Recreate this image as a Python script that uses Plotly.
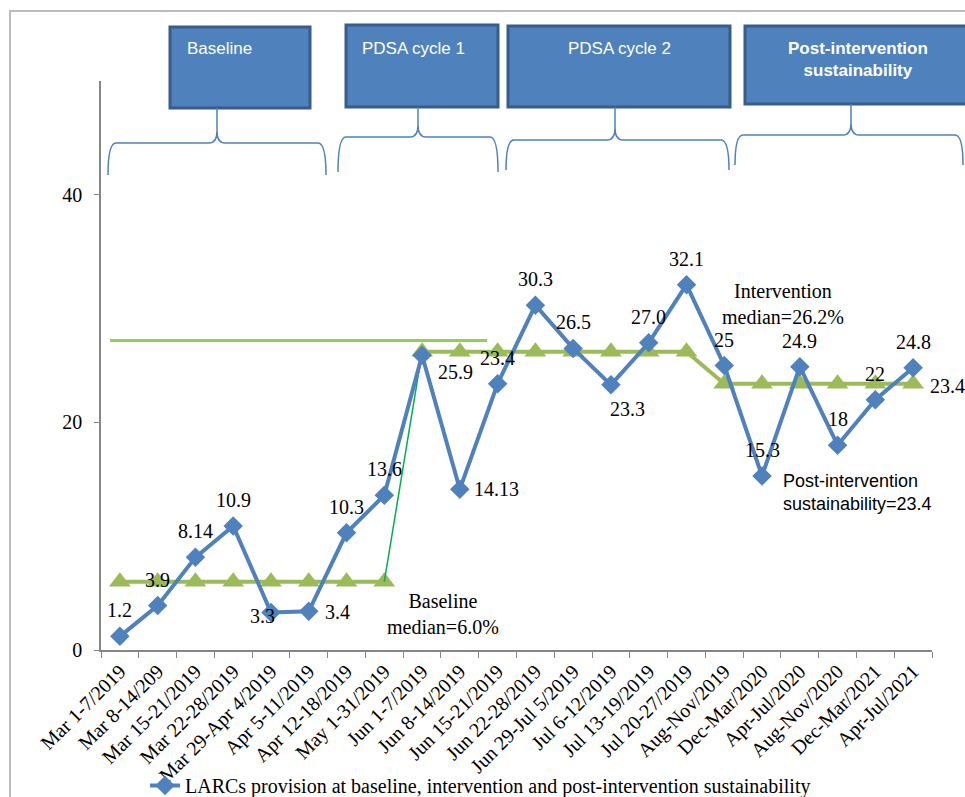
import plotly.graph_objects as go

categories = ["Mar 1-7/2019", "Mar 8-14/209", "Mar 15-21/2019", "Mar 22-28/2019",
              "Mar 29-Apr 4/2019", "Apr 5-11/2019", "Apr 12-18/2019", "May 1-31/2019",
              "Jun 1-7/2019", "Jun 8-14/2019", "Jun 15-21/2019", "Jun 22-28/2019",
              "Jun 29-Jul 5/2019", "Jul 6-12/2019", "Jul 13-19/2019", "Jul 20-27/2019",
              "Aug-Nov/2019", "Dec-Mar/2020", "Apr-Jul/2020", "Aug-Nov/2020",
              "Dec-Mar/2021", "Apr-Jul/2021"]
larc_values = [1.2, 3.9, 8.14, 10.9, 3.3, 3.4, 10.3, 13.6, 25.9, 14.13, 23.4, 30.3,
               26.5, 23.3, 27.0, 32.1, 25, 15.3, 24.9, 18, 22, 24.8]
larc_labels = ["1.2", "3.9", "8.14", "10.9", "3.3", "3.4", "10.3", "13.6", "25.9", "14.13",
               "23.4", "30.3", "26.5", "23.3", "27.0", "32.1", "25", "15.3", "24.9", "18",
               "22", "24.8"]
baseline_median = 6.0
intervention_median = 26.2
post_median = 23.4
n_baseline = 8
n_intervention = 8
n_post = 6
extra_line_value = 27.2
phase_names = ["Baseline", "PDSA cycle 1", "PDSA cycle 2", "Post-intervention<br>sustainability"]
legend_name = "LARCs provision at baseline, intervention and post-intervention sustainability"

# ---- layout geometry (pixels) ----
W, H = 965, 797
L, R, T, B = 101, 33, 81, 147
PW = W - L - R
PH = H - T - B


def px(x):
    return (x - L) / PW


def py(y):
    return (H - B - y) / PH


SERIF = "Liberation Serif, Times New Roman, Times, serif"
SANS = "Liberation Sans, Arial, sans-serif"
BLUE = "#4F81BD"
OLIVE = "#9BBB59"

fig = go.Figure()

base_x = categories[:n_baseline]
base_y = [baseline_median] * n_baseline
int_x = categories[n_baseline:]
int_y = [intervention_median] * n_intervention + [post_median] * n_post

fig.add_trace(go.Scatter(x=base_x, y=base_y, mode="lines+markers",
                         line=dict(color=OLIVE, width=4),
                         marker=dict(symbol="triangle-up", size=19, color=OLIVE),
                         showlegend=False, hoverinfo="skip"))
fig.add_trace(go.Scatter(x=int_x, y=int_y, mode="lines+markers",
                         line=dict(color=OLIVE, width=4),
                         marker=dict(symbol="triangle-up", size=19, color=OLIVE),
                         showlegend=False, hoverinfo="skip"))
fig.add_trace(go.Scatter(x=[base_x[-1], int_x[0]], y=[base_y[-1], int_y[0]], mode="lines",
                         line=dict(color="#00B050", width=1.5),
                         showlegend=False, hoverinfo="skip"))
fig.add_trace(go.Scatter(x=categories, y=larc_values, mode="lines+markers",
                         name=legend_name,
                         line=dict(color=BLUE, width=4),
                         marker=dict(symbol="diamond", size=15, color=BLUE),
                         showlegend=True))

shapes = []
# light green reference line
shapes.append(dict(type="line", xref="x", yref="y", x0=-0.26, x1=9.72,
                   y0=extra_line_value, y1=extra_line_value,
                   line=dict(color="#92D050", width=3), layer="below"))

# outer frame
shapes.append(dict(type="path", xref="paper", yref="paper",
                   path=f"M{px(10)},{py(800)} L{px(10)},{py(11)} L{px(970)},{py(11)}",
                   line=dict(color="#A6A6A6", width=1.5)))

# phase boxes
boxes = [(170, 310, 27, 108), (346, 498, 25, 107), (508, 730, 26, 107), (745, 985, 26, 104)]
for (x0, x1, y0, y1) in boxes:
    shapes.append(dict(type="rect", xref="paper", yref="paper",
                       x0=px(x0), x1=px(x1), y0=py(y1), y1=py(y0),
                       fillcolor=BLUE, line=dict(color="#385D8A", width=3)))

# curly braces
braces = [(108, 326, 217, 143, 175, 108), (338, 498, 418, 137, 172, 107),
          (506, 729, 615, 140, 170, 107), (735, 963, 851, 135, 165, 104)]
r = 8
for (xl, xr, xm, yh, yb, yt) in braces:
    p = (f"M{px(xl)},{py(yb)} Q{px(xl)},{py(yh)} {px(xl + r)},{py(yh)} "
         f"L{px(xm - r)},{py(yh)} Q{px(xm)},{py(yh)} {px(xm)},{py(yh - 12)} "
         f"L{px(xm)},{py(yt)} M{px(xm)},{py(yh - 12)} Q{px(xm)},{py(yh)} {px(xm + r)},{py(yh)} "
         f"L{px(xr - r)},{py(yh)} Q{px(xr)},{py(yh)} {px(xr)},{py(yb)}")
    shapes.append(dict(type="path", xref="paper", yref="paper", path=p,
                       line=dict(color=BLUE, width=1.5)))

annotations = []
serif20 = dict(family=SERIF, size=20, color="black")
# data labels
label_shift = {4: (-8, -4), 5: (29, -1), 8: (33, -17), 9: (37, 0), 13: (17, -24)}
for i, (c, v, t) in enumerate(zip(categories, larc_values, larc_labels)):
    dx, dy = label_shift.get(i, (0, 26))
    annotations.append(dict(x=c, y=v, xref="x", yref="y", text=t, showarrow=False,
                            xanchor="center", yanchor="middle",
                            xshift=dx, yshift=dy, font=serif20))
annotations.append(dict(x=int_x[-1], y=int_y[-1], xref="x", yref="y", text=f"{post_median}",
                        showarrow=False, xshift=34, yshift=-2, xanchor="center",
                        yanchor="middle", font=serif20))

annotations.append(dict(x=px(443), y=py(614), xref="paper", yref="paper",
                        xanchor="center", yanchor="middle",
                        text=f"Baseline<br>median={baseline_median:.1f}%", showarrow=False,
                        font=serif20))
annotations.append(dict(x=px(783), y=py(304), xref="paper", yref="paper",
                        xanchor="center", yanchor="middle",
                        text=f"Intervention<br>median={intervention_median}%", showarrow=False,
                        font=serif20))
annotations.append(dict(x=px(781), y=py(492), xref="paper", yref="paper", xanchor="left",
                        yanchor="middle", align="left",
                        text=f"Post-intervention<br>sustainability={post_median}", showarrow=False,
                        font=dict(family=SANS, size=18, color="black")))

# phase box texts
white17 = dict(family=SANS, size=17, color="white")
annotations.append(dict(x=px(185), y=py(49), xref="paper", yref="paper", xanchor="left",
                        yanchor="middle", text=phase_names[0], showarrow=False, font=white17))
annotations.append(dict(x=px(360), y=py(49), xref="paper", yref="paper", xanchor="left",
                        yanchor="middle", text=phase_names[1], showarrow=False, font=white17))
annotations.append(dict(x=px(619), y=py(49), xref="paper", yref="paper", xanchor="center",
                        yanchor="middle", text=phase_names[2], showarrow=False, font=white17))
annotations.append(dict(x=px(858), y=py(60), xref="paper", yref="paper", xanchor="center",
                        yanchor="middle",
                        text="<b>" + phase_names[3].replace("<br>", "</b><br><b>") + "</b>",
                        showarrow=False, font=white17))

fig.update_layout(
    width=W, height=H, autosize=False,
    margin=dict(l=L, r=R, t=T, b=B, pad=0, autoexpand=False),
    plot_bgcolor="white", paper_bgcolor="white",
    shapes=shapes, annotations=annotations,
    showlegend=True,
    legend=dict(x=px(145), y=py(805), xanchor="left", yanchor="bottom",
                font=serif20, bgcolor="rgba(0,0,0,0)", tracegroupgap=0),
    xaxis=dict(type="category", categoryorder="array", categoryarray=categories,
               range=[-0.5, len(categories) - 0.5], automargin=False,
               showline=True, linecolor="#868686", linewidth=1.5,
               ticks="outside", tickson="boundaries", ticklen=6, tickcolor="#868686",
               tickangle=-45, showgrid=False, zeroline=False,
               tickfont=dict(family=SERIF, size=20, color="black")),
    yaxis=dict(range=[0, 50], tickvals=[0, 20, 40], showline=True, linecolor="#868686",
               linewidth=1.5, ticks="outside", ticklen=5, tickcolor="#868686",
               showgrid=False, zeroline=False, ticklabelstandoff=8, automargin=False,
               tickfont=dict(family=SERIF, size=20, color="black")),
)

fig.write_html("out.html", config={"displayModeBar": False},
               post_script="document.body.style.margin='0';document.body.style.overflow='hidden';")
